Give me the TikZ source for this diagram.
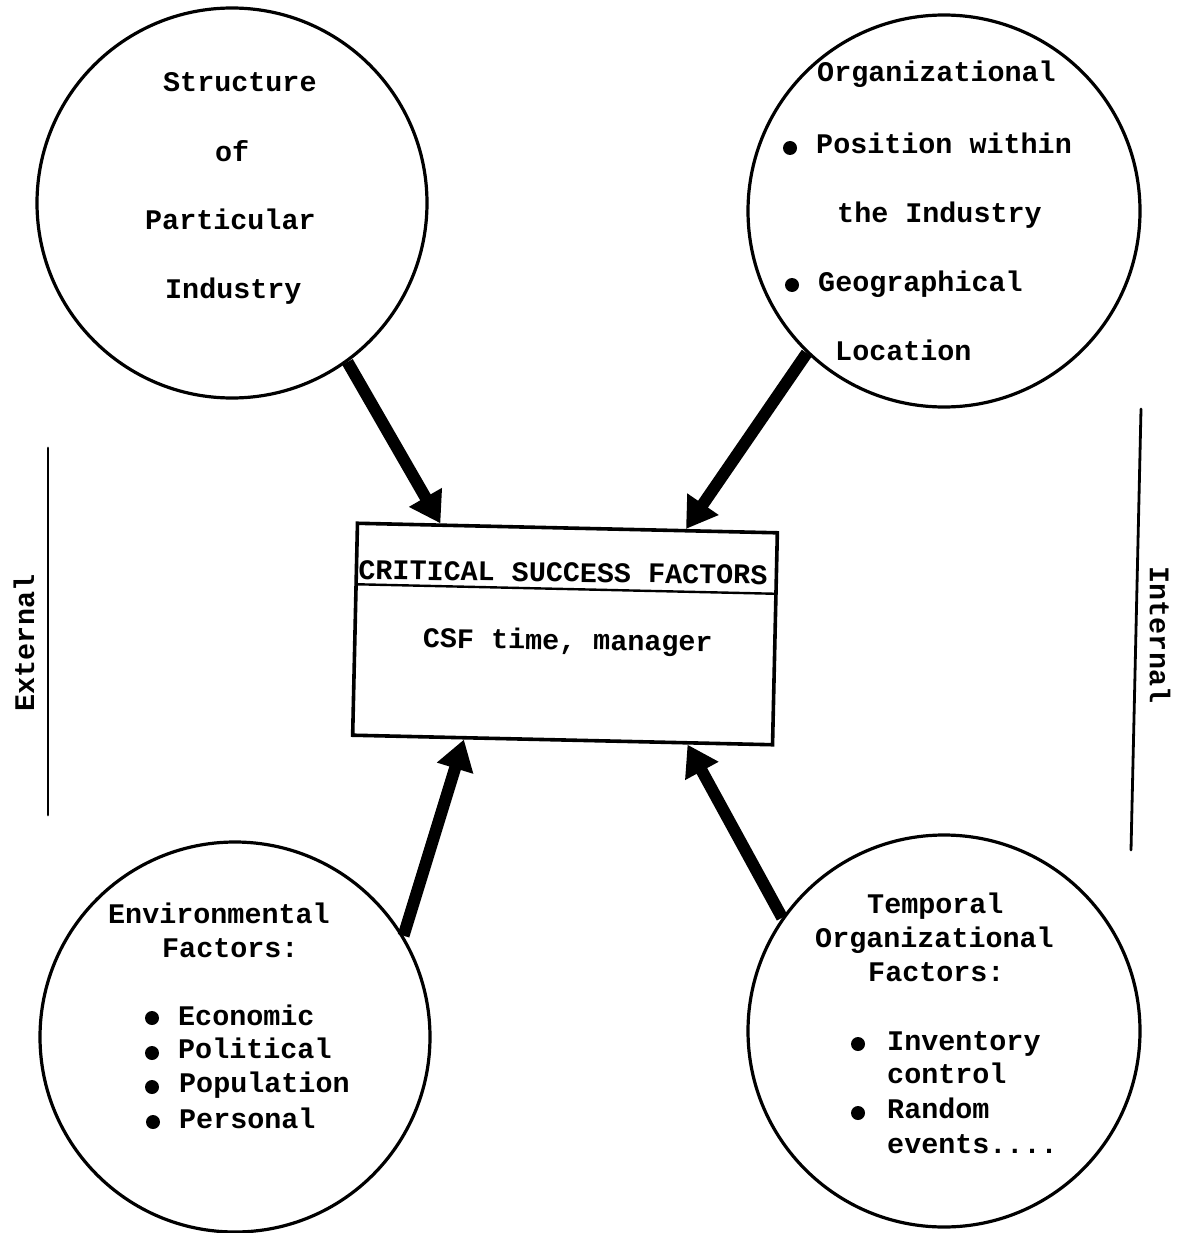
\documentclass[tikz,border=0pt]{standalone}
\usepackage{fontspec}
\setmonofont{Liberation Mono}
\usetikzlibrary{arrows.meta,calc}
\begin{document}
\begin{tikzpicture}[x=1pt,y=-1pt,
  tw/.style={font=\ttfamily\bfseries\fontsize{28.4}{34}\selectfont, anchor=base west, inner sep=0pt},
  factor/.style={draw, circle, line width=3.2pt, inner sep=0pt, minimum size=#1},
  bigarrow/.style={line width=12pt, -{Triangle[length=30pt,width=36pt]}},
  dot/.style={fill, circle, inner sep=0pt, minimum size=14pt},
  side/.style={line width=2.8pt, line cap=round}]

\useasboundingbox[fill=white] (0,0) rectangle (1184,1233);

% the four factor circles
\node[factor=390pt] (tl) at (232,203) {};
\node[factor=392pt] (tr) at (944,211) {};
\node[factor=390pt] (bl) at (235,1037) {};
\node[factor=392pt] (br) at (944,1031) {};

% central box, slightly tilted
\begin{scope}[shift={(565,634)}, rotate=-1.3, transform shape]
  \node[draw, line width=3.6pt, minimum width=420pt, minimum height=212pt, inner sep=0pt] (csf) at (0,0) {};
  \coordinate (hl) at (-210,-45);
  \coordinate (hr) at (208,-45);
  \draw[line width=2.4pt] (hl) -- (hr);
  \node[tw, rotate=0.6] (csftitle) at (-208,-50) {CRITICAL SUCCESS FACTORS};
  \node[tw, rotate=0.6] (csfsub) at (-142,17) {CSF time, manager};
\end{scope}

% arrow targets on the box
\coordinate (inTL) at ($(csf.north west)!0.20!(csf.north east)$);
\coordinate (inTR) at ($(csf.north west)!0.78!(csf.north east)$);
\coordinate (inBL) at ($(csf.south west)!0.267!(csf.south east)$);
\coordinate (inBR) at ($(csf.south west)!0.795!(csf.south east)$);

\draw[bigarrow] (tl.-54) -- (inTL);
\draw[bigarrow] (tr.-134) -- (inTR);
\draw[bigarrow] (bl.31) -- (inBL);
\draw[bigarrow] (br.145) -- (inBR);

% top left circle
\node[tw] (s1) at (163,92) {Structure};
\node[tw] (s2) at (215,162) {of};
\node[tw] (s3) at (145,230) {Particular};
\node[tw] (s4) at (165,298) {Industry};

% top right circle
\node[tw] (o1) at (817,82) {Organizational};
\node[dot] (ob1) at (790,148) {};
\node[tw] (o2) at (816,154) {Position within};
\node[tw] (o3) at (837,223) {the Industry};
\node[dot] (ob2) at (792,285) {};
\node[tw] (o4) at (818,291) {Geographical};
\node[tw] (o5) at (835,360) {Location};

% bottom left circle
\node[tw] (e1) at (108,923) {Environmental};
\node[tw] (e2) at (162,957) {Factors:};
\node[dot] (eb1) at (152,1018) {};
\node[tw] (e3) at (178,1025) {Economic};
\node[dot] (eb2) at (152,1053) {};
\node[tw] (e4) at (178,1058) {Political};
\node[dot] (eb3) at (152,1087) {};
\node[tw] (e5) at (179,1092) {Population};
\node[dot] (eb4) at (153,1122) {};
\node[tw] (e6) at (179,1128) {Personal};

% bottom right circle
\node[tw] (p1) at (867,913) {Temporal};
\node[tw] (p2) at (815,947) {Organizational};
\node[tw] (p3) at (868,981) {Factors:};
\node[dot] (pb1) at (858,1044) {};
\node[tw] (p4) at (887,1050) {Inventory};
\node[tw] (p5) at (887,1083) {control};
\node[dot] (pb2) at (858,1113) {};
\node[tw] (p6) at (887,1118) {Random};
\node[tw] (p7) at (887,1153) {events....};

% side labels
\coordinate (ext1) at (48,448);
\coordinate (ext2) at (48,815);
\draw[side] (ext1) -- (ext2);
\node[tw, anchor=center, rotate=90] (ext) at (24,643) {External};
\coordinate (int1) at (1141,409);
\coordinate (int2) at (1131,850);
\draw[side] (int1) -- (int2);
\node[tw, anchor=center, rotate=-90] (int) at (1160,635) {Internal};

\end{tikzpicture}
\end{document}
